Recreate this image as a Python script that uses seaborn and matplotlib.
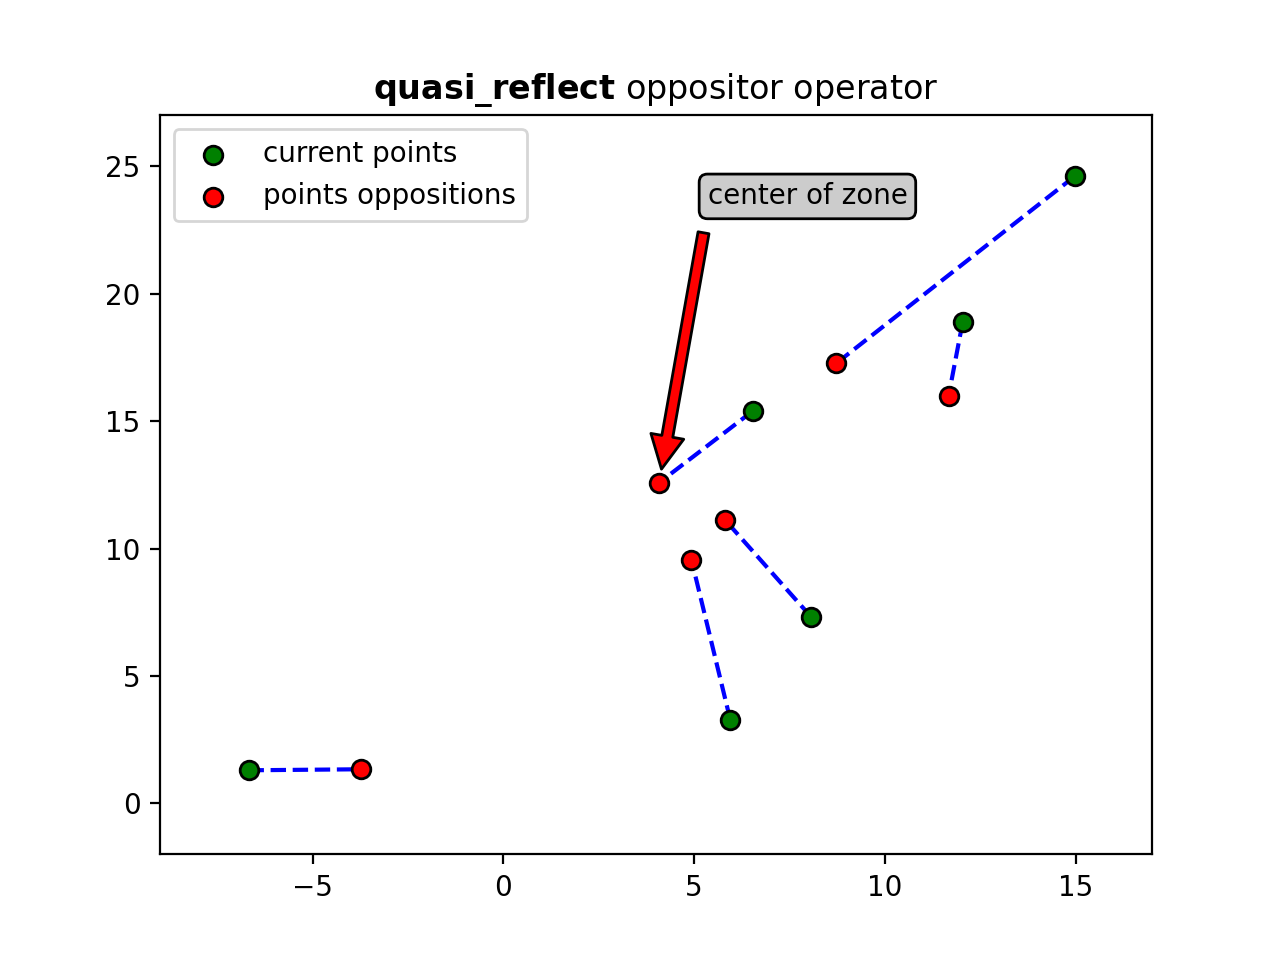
import matplotlib
matplotlib.use('Agg')
import matplotlib.pyplot as plt
import seaborn as sns

# current points and their quasi-reflected oppositions
cur_x = [-6.68, 5.95, 8.07, 6.55, 12.04, 14.98]
cur_y = [1.30, 3.26, 7.31, 15.41, 18.90, 24.61]
opp_x = [-3.73, 4.93, 5.81, 4.08, 11.67, 8.72]
opp_y = [1.34, 9.55, 11.12, 12.58, 16.00, 17.26]

center = (4.08, 12.58)
label_pos = (5.35, 23.5)

fig, ax = plt.subplots(figsize=(6.4, 4.8), dpi=200)

# dashed links between each point and its opposition
for x0, y0, x1, y1 in zip(cur_x, cur_y, opp_x, opp_y):
    ax.plot([x0, x1], [y0, y1], 'b--', zorder=1)

sns.scatterplot(x=cur_x, y=cur_y, color='green', edgecolor='black', linewidth=1,
                s=45, label='current points', zorder=3, ax=ax)
sns.scatterplot(x=opp_x, y=opp_y, color='red', edgecolor='black', linewidth=1,
                s=45, label='points oppositions', zorder=3, ax=ax)

ax.annotate('center of zone', xy=center, xytext=label_pos,
            arrowprops=dict(facecolor='red', shrink=0.05),
            bbox=dict(boxstyle='round', fc='0.8'))

ax.set_xlim(-9, 17)
ax.set_ylim(-2, 27)
ax.set_title(r'$\bf{quasi\_reflect}$ oppositor operator')
ax.legend(loc='upper left')

plt.savefig('out.png')
plt.close()
